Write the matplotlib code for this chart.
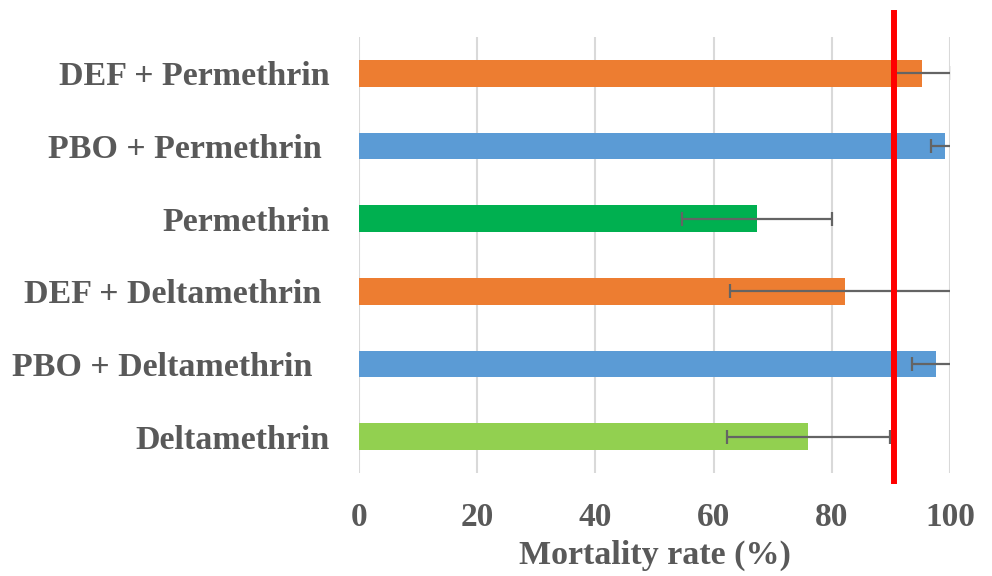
import matplotlib
matplotlib.use("Agg")
import matplotlib.pyplot as plt

categories = ["DEF + Permethrin", "PBO + Permethrin ", "Permethrin",
              "DEF + Deltamethrin ", "PBO + Deltamethrin  ", "Deltamethrin"]
mortality = [95.3, 99.1, 67.4, 82.3, 97.6, 76.0]
errors = [5.0, 2.3, 12.7, 19.5, 4.0, 13.8]
colors = ["#ED7D31", "#5B9BD5", "#00B050", "#ED7D31", "#5B9BD5", "#92D050"]
threshold = 90.5
xticks = [0, 20, 40, 60, 80, 100]

plt.rcParams['font.family'] = ['Liberation Serif', 'DejaVu Serif']
fig = plt.figure(figsize=(9.92, 5.76), dpi=100)
ax = fig.add_axes([0.3619, 0.1788, 0.5958, 0.757])

ypos = list(range(len(categories)))
ax.barh(ypos, mortality, height=0.37, color=colors, zorder=2)
ax.errorbar(mortality, ypos, xerr=errors, fmt='none', ecolor='#646464',
            elinewidth=1.6, capsize=5, capthick=1.6, zorder=3)
ax.axvline(threshold, ymin=-0.018, ymax=1.055, color='#FF0000', lw=4.3,
           clip_on=False, zorder=4)

ax.set_xlim(0, 100)
ax.set_ylim(len(categories) - 0.5, -0.5)
ax.set_xticks(xticks)
ax.set_yticks(ypos)
ax.set_yticklabels(categories)
ax.grid(axis='x', color='#D9D9D9', lw=1.5, zorder=0)
ax.set_axisbelow(True)
for s in ax.spines.values():
    s.set_visible(False)
ax.tick_params(length=0)
ax.tick_params(axis='x', pad=21, labelsize=24, labelcolor='#595959')
ax.tick_params(axis='y', pad=21, labelsize=24.5, labelcolor='#595959')
for t in ax.get_xticklabels() + ax.get_yticklabels():
    t.set_fontweight('bold')
ax.set_xlabel("Mortality rate (%)", fontsize=24.5, fontweight='bold',
              color='#595959', labelpad=5)

fig.savefig("out.png", dpi=100)
